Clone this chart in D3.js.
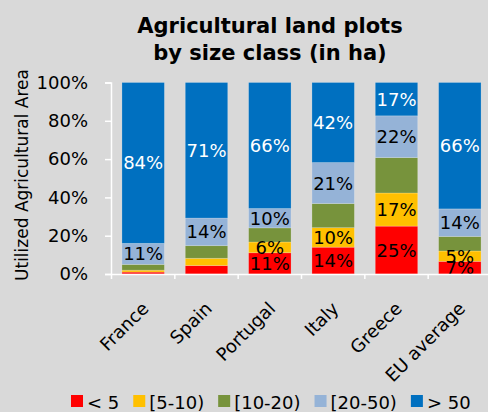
<!DOCTYPE html>
<html><head><meta charset="utf-8">
<script src="https://cdn.jsdelivr.net/npm/d3@7"></script>
<style>body{margin:0;background:#D9D9D9;overflow:hidden;}svg{display:block;}</style>
</head><body>
<script>
const categories = ["France","Spain","Portugal","Italy","Greece","EU average"];
const seriesNames = ["< 5","[5-10)","[10-20)","[20-50)","> 50"];
const seriesColors = ["#FF0000","#FFC000","#77933C","#95B3D7","#0070C0"];
const lt5   = [1.0, 4.4, 11.1, 14.0, 25.0, 6.6];
const s5_10 = [1.0, 3.8, 5.6, 10.2, 17.3, 5.4];
const s10_20= [3.0, 6.6, 7.4, 12.6, 18.5, 7.6];
const s20_50= [11.0, 14.4, 10.1, 21.4, 21.8, 14.4];
const gt50  = [84.0, 70.8, 65.8, 41.8, 17.4, 66.0];
const yTicks = [0,20,40,60,80,100];
const seriesValues = [lt5, s5_10, s10_20, s20_50, gt50];
const showLabel = [true, true, false, true, true];

const W=488,H=412;
const svg=d3.select("body").append("svg").attr("width",W).attr("height",H);
svg.append("rect").attr("width",W).attr("height",H).attr("fill","#D9D9D9");
const font="DejaVu Sans";

const x=d3.scaleBand().domain(categories).range([111.5,491.5]).paddingInner(0.33).paddingOuter(0.165);
const y=d3.scaleLinear().domain([0,100]).range([274,82.5]);

const rows=categories.map((c,i)=>{const o={cat:c};seriesNames.forEach((s,j)=>o[s]=seriesValues[j][i]);return o;});
const stacked=d3.stack().keys(seriesNames)(rows);

const g=svg.append("g");
stacked.forEach((layer,j)=>{
  g.selectAll(null).data(layer).enter().append("rect")
    .attr("x",d=>x(d.data.cat)).attr("width",x.bandwidth())
    .attr("y",d=>y(d[1])).attr("height",d=>y(d[0])-y(d[1]))
    .attr("fill",seriesColors[j]).attr("stroke","rgba(255,255,255,0.25)").attr("stroke-width",0.8);
});
stacked.forEach((layer,j)=>{
  if(!showLabel[j])return;
  g.selectAll(null).data(layer.filter(d=>d[1]-d[0]>=5)).enter().append("text")
    .attr("x",d=>x(d.data.cat)+x.bandwidth()/2).attr("y",d=>(y(d[0])+y(d[1]))/2)
    .attr("text-anchor","middle").attr("dominant-baseline","central")
    .attr("font-family",font).attr("font-size",18)
    .attr("fill",j===4?"#FFFFFF":"#000000")
    .text(d=>Math.round(d[1]-d[0])+"%");
});

// y axis
const ya=svg.append("g").attr("transform","translate(111,0)")
  .call(d3.axisLeft(y).tickValues(yTicks).tickFormat(d=>d+"%").tickSize(6).tickPadding(17));
ya.select(".domain").attr("stroke","#FFFFFF").attr("stroke-width",1.5);
ya.selectAll(".tick line").attr("stroke","#FFFFFF").attr("stroke-width",1.5);
ya.selectAll("text").attr("font-family",font).attr("font-size",18).attr("fill","#000");

// x axis
const xa=svg.append("g").attr("transform","translate(0,274)")
  .call(d3.axisBottom(x).tickSize(0).tickFormat(""));
xa.select(".domain").attr("stroke","#FFFFFF").attr("stroke-width",1.5);
xa.selectAll(".tick").remove();
const step=x.step();
const bounds=categories.map((c,i)=>x(c)-x.paddingInner()*step/2);
svg.append("g").selectAll("line").data(bounds).enter().append("line")
  .attr("x1",d=>d).attr("x2",d=>d).attr("y1",274).attr("y2",279)
  .attr("stroke","#FFFFFF").attr("stroke-width",1.5);
svg.append("g").selectAll("text").data(categories).enter().append("text")
  .attr("transform",d=>`translate(${x(d)+x.bandwidth()/2+2},${305}) rotate(-45)`)
  .attr("text-anchor","end").attr("dominant-baseline","central")
  .attr("font-family",font).attr("font-size",18).attr("fill","#000").text(d=>d);

// y title
svg.append("text").attr("transform","translate(28,175) rotate(-90)")
  .attr("text-anchor","middle").attr("font-family",font).attr("font-size",17).attr("fill","#000")
  .text("Utilized Agricultural Area");

// title
const t=svg.append("text").attr("text-anchor","middle").attr("font-family",font)
  .attr("font-weight","bold").attr("font-size",21).attr("fill","#000");
t.append("tspan").attr("x",270).attr("y",33).text("Agricultural land plots");
t.append("tspan").attr("x",270).attr("y",60).text("by size class (in ha)");

// legend
const lg=svg.append("g");
let lx=71;
seriesNames.forEach((s,j)=>{
  lg.append("rect").attr("x",lx).attr("y",395).attr("width",12).attr("height",12).attr("fill",seriesColors[j]);
  const tx=lg.append("text").attr("x",lx+16).attr("y",409).attr("font-family",font).attr("font-size",18).attr("fill","#000").text(s);
  lx+=16+tx.node().getComputedTextLength()+14;
});
</script>
</body></html>
